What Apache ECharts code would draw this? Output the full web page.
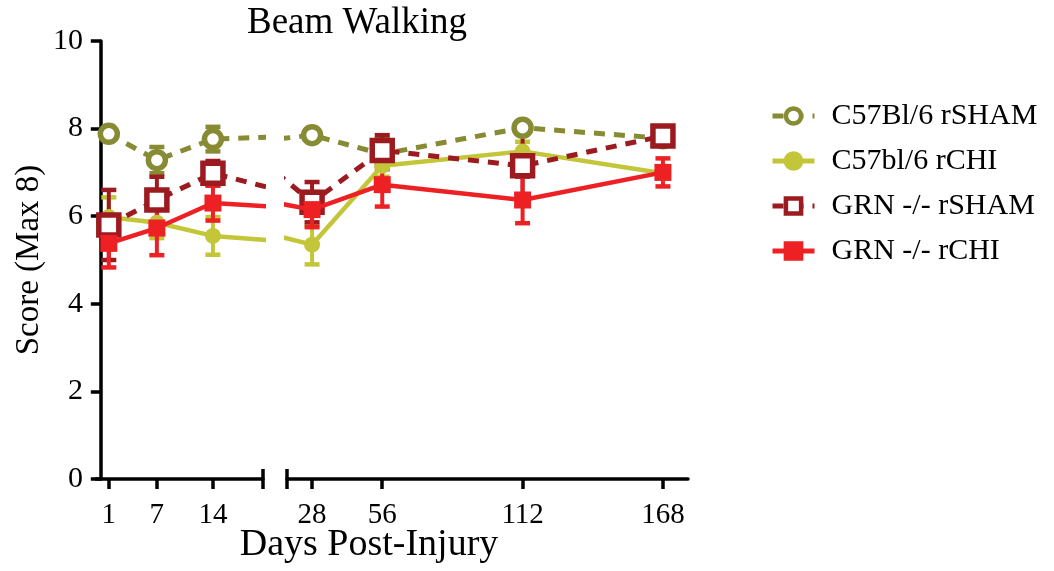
<!DOCTYPE html>
<html>
<head>
<meta charset="utf-8">
<script src="https://cdn.jsdelivr.net/npm/echarts@6/dist/echarts.min.js"></script>
<style>
html,body{margin:0;padding:0;background:#fff;}
#chart{width:1054px;height:571px;}
</style>
</head>
<body>
<div id="chart"></div>
<script>
// ---- data ----
const days = [1, 7, 14, 28, 56, 112, 168];
const leftTicks = [1, 7, 14];
const rightTicks = [28, 56, 112, 168];
const seriesNames = ['C57Bl/6 rSHAM', 'C57bl/6 rCHI', 'GRN -/- rSHAM', 'GRN -/- rCHI'];
const c57Sham    = [7.88, 7.28, 7.76, 7.85, 7.42, 8.02, 7.78];
const c57ShamErr = [0.10, 0.30, 0.28, 0.08, 0.35, 0.10, 0.12];
const c57Chi     = [5.98, 5.85, 5.55, 5.35, 7.15, 7.48, 6.98];
const c57ChiErr  = [0.45, 0.35, 0.43, 0.45, 0.25, 0.22, 0.10];
const grnSham    = [5.80, 6.37, 6.98, 6.32, 7.50, 7.15, 7.83];
const grnShamErr = [0.80, 0.53, 0.28, 0.46, 0.35, 0.82, 0.12];
const grnChi     = [5.38, 5.73, 6.30, 6.15, 6.72, 6.37, 7.00];
const grnChiErr  = [0.55, 0.62, 0.40, 0.40, 0.50, 0.53, 0.32];

// ---- styling ----
const FONT = 'Liberation Serif';
const colors = ['#878B33', '#C3C638', '#9B1B20', '#ED2024'];
const symbols = ['circle', 'circle', 'rect', 'rect'];
const symSizes = [17, 16, 20, 17];
const hollow = [true, false, true, false];
const means = [c57Sham, c57Chi, grnSham, grnChi];
const errs = [c57ShamErr, c57ChiErr, grnShamErr, grnChiErr];
const leftRange = [-0.6, 20.25];
const rightRange = [18, 178];

const chart = echarts.init(document.getElementById('chart'));

const series = [];
[0, 1].forEach(function (g) {
  const range = g === 0 ? leftRange : rightRange;
  // error bars
  means.forEach(function (m, i) {
    const data = [];
    days.forEach(function (d, k) {
      if (d >= range[0] && d <= range[1]) data.push([d, m[k] - errs[i][k], m[k] + errs[i][k]]);
    });
    series.push({
      type: 'custom',
      xAxisIndex: g, yAxisIndex: g,
      z: 2,
      silent: true,
      data: data,
      encode: {x: 0, y: [1, 2]},
      renderItem: function (params, api) {
        const lo = api.coord([api.value(0), api.value(1)]);
        const hi = api.coord([api.value(0), api.value(2)]);
        const hw = 7.5;
        const st = {stroke: colors[i], lineWidth: 4};
        const cap = {stroke: colors[i], lineWidth: 4.5};
        return {
          type: 'group',
          children: [
            {type: 'line', shape: {x1: lo[0], y1: lo[1], x2: hi[0], y2: hi[1]}, style: st},
            {type: 'line', shape: {x1: lo[0] - hw, y1: lo[1], x2: lo[0] + hw, y2: lo[1]}, style: cap},
            {type: 'line', shape: {x1: hi[0] - hw, y1: hi[1], x2: hi[0] + hw, y2: hi[1]}, style: cap}
          ]
        };
      }
    });
  });
  // lines
  means.forEach(function (m, i) {
    series.push({
      type: 'line',
      name: seriesNames[i],
      xAxisIndex: g, yAxisIndex: g,
      z: 3 + i,
      clip: true,
      data: days.map(function (d, k) { return [d, m[k]]; }),
      symbol: symbols[i],
      symbolSize: symSizes[i],
      showAllSymbol: true,
      color: colors[i],
      lineStyle: {color: colors[i], width: hollow[i] ? 5 : 4.5, type: hollow[i] ? [11, 9] : 'solid'},
      itemStyle: hollow[i]
        ? {color: '#fff', borderColor: colors[i], borderWidth: 5.5}
        : {color: colors[i], borderColor: colors[i], borderWidth: 0},
      emphasis: {disabled: true}
    });
  });
  // axis break caps
  series.push({
    type: 'custom',
    xAxisIndex: g, yAxisIndex: g,
    silent: true,
    clip: false,
    z: 10,
    data: [[g === 0 ? range[1] : range[0], 0]],
    renderItem: function (params, api) {
      const p = api.coord([api.value(0), api.value(1)]);
      return {type: 'line', shape: {x1: p[0], y1: p[1] - 10, x2: p[0], y2: p[1] + 10},
              style: {stroke: '#000', lineWidth: 3.5}};
    }
  });
});

const axisLineStyle = {color: '#000', width: 3.5};

chart.setOption({
  animation: false,
  backgroundColor: '#fff',
  grid: [
    {left: 96, top: 41, width: 167, height: 438},
    {left: 287, top: 41, width: 401, height: 438}
  ],
  xAxis: [0, 1].map(function (g) {
    const range = g === 0 ? leftRange : rightRange;
    const ticks = g === 0 ? leftTicks : rightTicks;
    return {
      type: 'value', gridIndex: g, min: range[0], max: range[1],
      splitLine: {show: false},
      axisLine: {show: true, onZero: false, lineStyle: axisLineStyle},
      axisTick: {show: true, length: 10, lineStyle: {width: 3.5, color: '#000'}, customValues: ticks},
      axisLabel: {customValues: ticks, fontFamily: FONT, fontSize: 29, color: '#000', margin: 22}
    };
  }),
  yAxis: [
    {
      type: 'value', gridIndex: 0, min: 0, max: 10, interval: 2,
      splitLine: {show: false},
      axisLine: {show: true, lineStyle: axisLineStyle},
      axisTick: {show: true, length: 10, lineStyle: {width: 3.5, color: '#000'}},
      axisLabel: {fontFamily: FONT, fontSize: 30, color: '#000', margin: 13},
      name: 'Score (Max 8)', nameLocation: 'middle', nameRotate: 90, nameGap: 50,
      nameTextStyle: {fontFamily: FONT, fontSize: 33, color: '#000'}
    },
    {type: 'value', gridIndex: 1, min: 0, max: 10, interval: 2, show: false}
  ],
  legend: {
    orient: 'vertical', left: 765, top: 96, itemGap: 15,
    itemWidth: 42, itemHeight: 19,
    data: seriesNames,
    lineStyle: {width: 5},
    itemStyle: {borderWidth: 4.5},
    textStyle: {fontFamily: FONT, fontSize: 30, color: '#000', lineHeight: 30, padding: [0, 0, 0, 12]},
    selectedMode: false
  },
  graphic: [
    {type: 'text', style: {text: 'Beam Walking', x: 357, y: 5, textAlign: 'center', fontFamily: FONT, fontSize: 37, fill: '#000'}},
    {type: 'text', style: {text: 'Days Post-Injury', x: 369, y: 526, textAlign: 'center', fontFamily: FONT, fontSize: 38, fill: '#000'}}
  ],
  series: series
});
</script>
</body>
</html>
